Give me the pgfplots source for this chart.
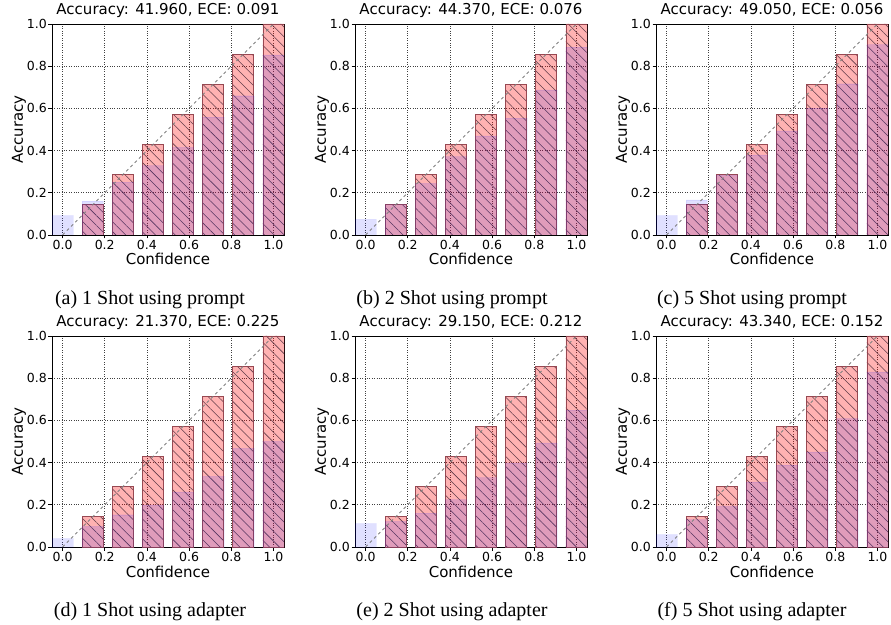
\documentclass[border=0pt]{standalone}
\usepackage{fontspec}
\setmainfont{Liberation Serif}
\newfontfamily\dejavu{DejaVu Sans}
\usepackage{pgfplots}
\pgfplotsset{compat=1.18}
\usepackage{pgfplotstable}
\usetikzlibrary{patterns.meta}

\definecolor{gapedge}{RGB}{150,70,80}
\definecolor{hatchc}{RGB}{70,40,55}

\pgfplotstableread{
x conf
0.142857 0.142857
0.285714 0.285714
0.428571 0.428571
0.571429 0.571429
0.714286 0.714286
0.857143 0.857143
1.000000 1.000000
}\gaps

\pgfplotstableread{
x acc
0.000000 0.092
0.142857 0.161
0.285714 0.250
0.428571 0.329
0.571429 0.415
0.714286 0.559
0.857143 0.660
1.000000 0.854
}\accA
\pgfplotstableread{
x acc
0.000000 0.074
0.142857 0.144
0.285714 0.245
0.428571 0.372
0.571429 0.470
0.714286 0.554
0.857143 0.688
1.000000 0.890
}\accB
\pgfplotstableread{
x acc
0.000000 0.092
0.142857 0.166
0.285714 0.285
0.428571 0.380
0.571429 0.494
0.714286 0.601
0.857143 0.717
1.000000 0.902
}\accC
\pgfplotstableread{
x acc
0.000000 0.040
0.142857 0.098
0.285714 0.153
0.428571 0.200
0.571429 0.261
0.714286 0.335
0.857143 0.467
1.000000 0.500
}\accD
\pgfplotstableread{
x acc
0.000000 0.111
0.142857 0.122
0.285714 0.161
0.428571 0.225
0.571429 0.329
0.714286 0.399
0.857143 0.494
1.000000 0.649
}\accE
\pgfplotstableread{
x acc
0.000000 0.059
0.142857 0.130
0.285714 0.193
0.428571 0.309
0.571429 0.388
0.714286 0.451
0.857143 0.609
1.000000 0.830
}\accF

\pgfplotsset{
  rel/.style={
    scale only axis, width=232pt, height=211pt,
    xmin=-0.05, xmax=1.05, ymin=0, ymax=1,
    xtick={0,0.2,0.4,0.6,0.8,1}, xticklabels={0.0,0.2,0.4,0.6,0.8,1.0},
    ytick={0,0.2,0.4,0.6,0.8,1}, yticklabels={0.0,0.2,0.4,0.6,0.8,1.0},
    tick align=outside, tick pos=left, major tick length=3.5pt,
    tick style={black, line width=0.8pt},
    ticklabel style={font=\dejavu\fontsize{12.5}{14}\selectfont},
    yticklabel style={inner sep=1.5pt},
    xticklabel style={inner sep=2pt},
    grid=major, grid style={dotted, black!75, line width=0.7pt},
    axis line style={line width=0.9pt},
    xlabel={Confidence}, ylabel={Accuracy},
    label style={font=\dejavu\fontsize{15}{18}\selectfont},
    xlabel style={at={(axis description cs:0.5,0)}, anchor=base, yshift=-30pt},
    ylabel style={at={(axis description cs:-0.142,0.5)}, anchor=center},
    title style={font=\dejavu\fontsize{15}{18}\selectfont, at={(axis description cs:0.5,1)}, anchor=base, yshift=3pt},
  },
  gapbar/.style={ybar, bar width=0.1, bar shift=0pt, fill=red, fill opacity=0.3, draw=gapedge, draw opacity=0.85, line width=0.8pt,
    postaction={pattern={Lines[angle=-45,distance=7pt,line width=0.55pt]}, pattern color=hatchc, fill opacity=0.85}},
  accbar/.style={ybar, bar width=0.1, bar shift=0pt, fill=blue, fill opacity=0.12, draw=blue, draw opacity=0.06},
  diag/.style={dashed, black!50, line width=0.8pt},
}

\newcommand{\relpanel}[4]{%
\begin{axis}[rel, at={(#1pt,#4pt)}, anchor=south west, title={#3}]
\addplot[gapbar] table[x=x,y=conf] {\gaps};
\addplot[accbar] table[x=x,y=acc] {#2};
\addplot[diag] coordinates {(0,0) (1,1)};
\end{axis}}

\begin{document}
\begin{tikzpicture}
\path[use as bounding box] (0pt,0pt) rectangle (891pt,624pt);
\relpanel{52}{\accA}{Accuracy: 41.960, ECE: 0.091}{389}
\relpanel{355}{\accB}{Accuracy: 44.370, ECE: 0.076}{389}
\relpanel{656}{\accC}{Accuracy: 49.050, ECE: 0.056}{389}
\relpanel{52}{\accD}{Accuracy: 21.370, ECE: 0.225}{77}
\relpanel{355}{\accE}{Accuracy: 29.150, ECE: 0.212}{77}
\relpanel{656}{\accF}{Accuracy: 43.340, ECE: 0.152}{77}
\begin{scope}[every node/.style={font=\fontsize{20}{24}\selectfont, anchor=base, inner sep=0pt}]
\node at (150pt,319pt) {(a) 1 Shot using prompt};
\node at (452pt,319pt) {(b) 2 Shot using prompt};
\node at (752pt,319pt) {(c) 5 Shot using prompt};
\node at (150pt,8pt) {(d) 1 Shot using adapter};
\node at (452pt,8pt) {(e) 2 Shot using adapter};
\node at (752pt,8pt) {(f) 5 Shot using adapter};
\end{scope}
\end{tikzpicture}
\end{document}
